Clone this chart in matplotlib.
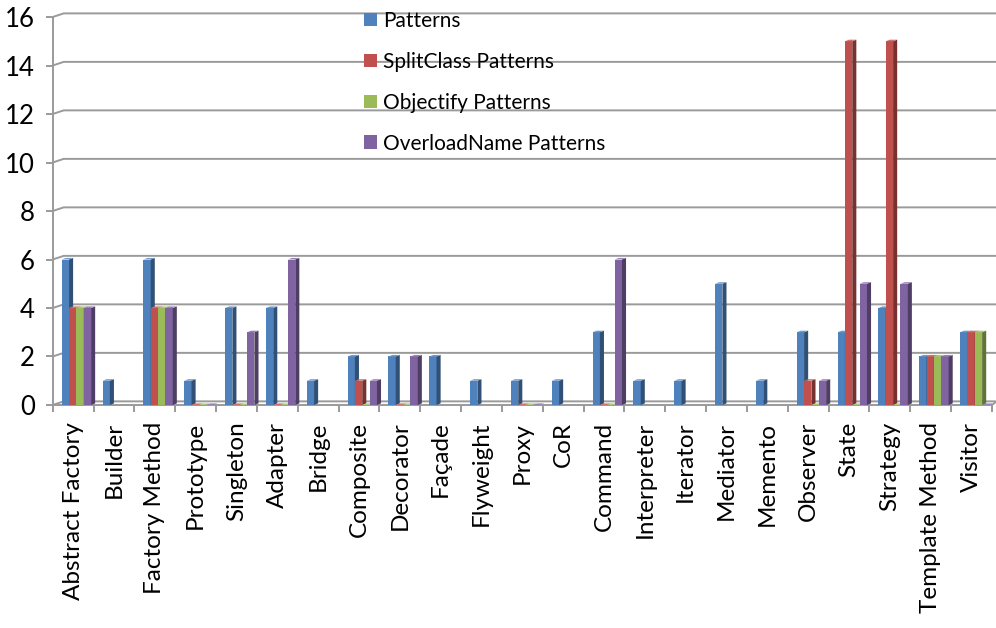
import numpy as np
import matplotlib.pyplot as plt
from matplotlib.patches import Polygon
from matplotlib.colors import to_rgb

nan = np.nan

categories = ["Abstract Factory", "Builder", "Factory Method", "Prototype", "Singleton",
              "Adapter", "Bridge", "Composite", "Decorator", "Façade", "Flyweight",
              "Proxy", "CoR", "Command", "Interpreter", "Iterator", "Mediator",
              "Memento", "Observer", "State", "Strategy", "Template Method", "Visitor"]

patterns     = [6, 1, 6, 1, 4, 4, 1, 2, 2, 2, 1, 1, 1, 3, 1, 1, 5, 1, 3, 3, 4, 2, 3]
splitclass   = [4, nan, 4, 0, 0, 0, nan, 1, 0, nan, nan, 0, nan, 0, nan, nan, nan, nan, 1, 15, 15, 2, 3]
objectify    = [4, nan, 4, 0, 0, 0, nan, 0, 0, nan, nan, 0, nan, 0, nan, nan, nan, nan, 0, 0, 0, 2, 3]
overloadname = [4, nan, 4, 0, 3, 6, nan, 1, 2, nan, nan, 0, nan, 6, nan, nan, nan, nan, 1, 5, 5, 2, 0]

series_names = ["Patterns", "SplitClass Patterns", "Objectify Patterns", "OverloadName Patterns"]
series_vals = [patterns, splitclass, objectify, overloadname]
colors = ["#4F81BD", "#C0504D", "#9BBB59", "#8064A2"]

yticks = [0, 2, 4, 6, 8, 10, 12, 14, 16]

plt.rcParams['font.family'] = ['Lato', 'DejaVu Sans']
grey = "#9a9a9a"


def darker(c, f):
    return tuple(np.array(to_rgb(c)) * f)


def lighter(c, f):
    rgb = np.array(to_rgb(c))
    return tuple(rgb + (1 - rgb) * f)


fig = plt.figure(figsize=(9.96, 6.28), dpi=100)
ax = fig.add_axes([0.0529, 0.3551, 0.9430, 0.6178])

x = np.arange(len(categories))
w = 0.18      # front face width
dx = 0.1      # depth of the side face
dy = 0.065
start = -0.28

handles = []
for k, (name, vals, color) in enumerate(zip(series_names, series_vals, colors)):
    vals = np.array(vals, dtype=float)
    z = 3 + k * 0.1
    bars = ax.bar(x + start + k * w, np.nan_to_num(vals), width=w, align='edge',
                  color=color, linewidth=0, label=name, zorder=z)
    handles.append(bars)
    for rect, v in zip(bars, vals):
        if np.isnan(v):
            rect.set_visible(False)
            continue
        x0 = rect.get_x()
        x1 = x0 + rect.get_width()
        h = rect.get_height()
        ax.add_patch(Polygon([(x1, 0), (x1 + dx, dy), (x1 + dx, h + dy), (x1, h)],
                             closed=True, fc=darker(color, 0.62), ec='none', zorder=z + 0.01))
        ax.add_patch(Polygon([(x0, h), (x0 + dx, h + dy), (x1 + dx, h + dy), (x1, h)],
                             closed=True, fc=lighter(color, 0.2), ec='none', zorder=z + 0.02))

# back wall gridlines with a short slanted stub from the axis
for v in yticks:
    ax.plot([-0.5, -0.23, 22.62], [v, v + 0.15, v + 0.15], color=grey, lw=1.4,
            clip_on=False, zorder=1, solid_capstyle='butt')
ax.plot([22.5, 22.62], [0, 0.15], color=grey, lw=1.4, clip_on=False, zorder=2)

ax.set_xlim(-0.5, 22.5)
ax.set_ylim(0, 16)
ax.set_yticks(yticks)

for s in ['top', 'right']:
    ax.spines[s].set_visible(False)
for s in ['left', 'bottom']:
    ax.spines[s].set_color(grey)
    ax.spines[s].set_linewidth(1.4)

ax.tick_params(axis='y', direction='out', length=5, width=1.4, color=grey,
               labelsize=18.5, pad=8)
ax.set_xticks(x)
ax.set_xticklabels(categories, rotation=90, fontsize=17.5)
ax.set_xticks(np.arange(len(categories) + 1) - 0.5, minor=True)
ax.tick_params(axis='x', which='major', length=0, pad=12)
ax.tick_params(axis='x', which='minor', direction='out', length=5, width=1.4, color=grey)

fig.legend(handles, series_names, loc='upper left', bbox_to_anchor=(362 / 996, 1 - 9 / 628),
           frameon=False, fontsize=15, handlelength=0.62, handleheight=0.62,
           handletextpad=0.3, labelspacing=1.0, borderpad=0.1, borderaxespad=0)

fig.savefig("out.png", dpi=100)
